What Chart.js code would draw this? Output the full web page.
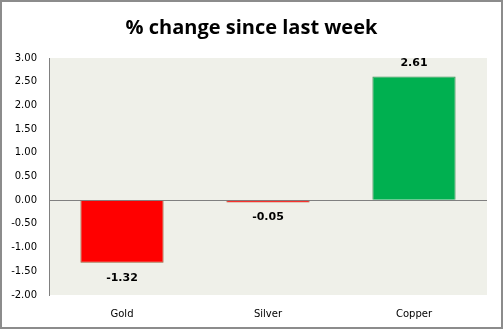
<!DOCTYPE html>
<html>
<head>
<meta charset="utf-8">
<script src="https://cdn.jsdelivr.net/npm/chart.js@4"></script>
<style>
  html, body { margin: 0; padding: 0; background: #fff; }
  #wrap { width: 503px; height: 329px; position: relative; }
</style>
</head>
<body>
<div id="wrap"><canvas id="changeChart"></canvas></div>
<script>
const metals = ["Gold", "Silver", "Copper"];
const weeklyChange = [-1.32, -0.05, 2.61];
const barFills = ["#ff0000", "#ff0000", "#00b050"];
const barEdges = ["#9c5b35", "#b04a2a", "#3d8f55"];

// plot background, outer frame and value labels
const decorations = {
  id: "decorations",
  beforeDraw(chart) {
    const { ctx, chartArea: a } = chart;
    ctx.save();
    ctx.fillStyle = "#eff0e9";
    ctx.fillRect(a.left, a.top, a.right - a.left, a.bottom - a.top);
    ctx.restore();
  },
  afterDraw(chart) {
    const ctx = chart.ctx;
    ctx.save();
    ctx.strokeStyle = "#8c8c8c";
    ctx.lineWidth = 2;
    ctx.strokeRect(1, 1, chart.width - 2, chart.height - 2);
    ctx.restore();
  },
  afterDatasetsDraw(chart) {
    const ctx = chart.ctx;
    const meta = chart.getDatasetMeta(0);
    ctx.save();
    ctx.font = "bold 11px 'DejaVu Sans'";
    ctx.fillStyle = "#000";
    ctx.textAlign = "center";
    ctx.textBaseline = "middle";
    meta.data.forEach((bar, i) => {
      const v = weeklyChange[i];
      const y = v >= 0 ? bar.y - 13 : bar.y + 15;
      ctx.fillText(v.toFixed(2), bar.x, y);
    });
    ctx.restore();
  },
};

new Chart(document.getElementById("changeChart"), {
  type: "bar",
  data: {
    labels: metals,
    datasets: [
      {
        data: weeklyChange,
        backgroundColor: barFills,
        borderColor: barEdges,
        borderWidth: 1,
        categoryPercentage: 1,
        barPercentage: 0.57,
      },
    ],
  },
  options: {
    responsive: true,
    maintainAspectRatio: false,
    animation: false,
    layout: { padding: { top: 4, right: 0, bottom: 0, left: 0 } },
    scales: {
      x: {
        grid: { display: false },
        border: { display: false },
        ticks: { color: "#000", font: { family: "DejaVu Sans", size: 10 }, padding: 5 },
        afterFit(scale) { scale.height = 34; },
      },
      y: {
        min: -2,
        max: 3,
        grid: {
          drawTicks: false,
          color: (c) => (c.tick && c.tick.value === 0 ? "#808080" : "rgba(0,0,0,0)"),
        },
        border: { display: true, color: "#808080" },
        ticks: {
          stepSize: 0.5,
          color: "#000",
          padding: 12,
          font: { family: "DejaVu Sans", size: 10 },
          callback: (v) => Number(v).toFixed(2),
        },
        afterFit(scale) { scale.width = 49; },
      },
      // empty strip on the right so the plot stops short of the frame
      spacer: {
        position: "right",
        grid: { display: false },
        border: { display: false },
        ticks: { display: false },
        afterFit(scale) { scale.width = 16; },
      },
    },
    plugins: {
      legend: { display: false },
      tooltip: { enabled: false },
      title: {
        display: true,
        text: "% change since last week",
        color: "#000",
        font: { family: "Open Sans", size: 20, weight: "bold" },
        padding: { top: 12, bottom: 18 },
      },
    },
  },
  plugins: [decorations],
});
</script>
</body>
</html>
